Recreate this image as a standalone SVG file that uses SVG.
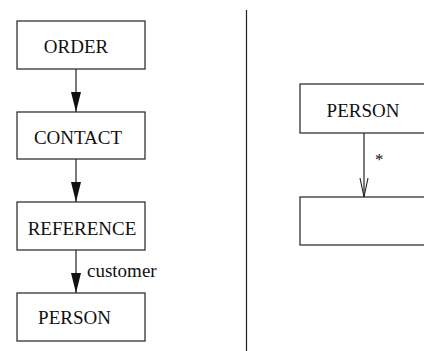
<svg xmlns="http://www.w3.org/2000/svg" width="424" height="351" viewBox="0 0 424 351">
  <style>
    .box { fill: #fff; stroke: #222; stroke-width: 1.2; }
    .lbl { font-family: "Liberation Serif", "Times New Roman", serif; font-size: 19px; fill: #111; }
    .edge { stroke: #222; stroke-width: 1.2; fill: none; }
  </style>
  <defs>
    <!-- markers drawn along +x; orient="auto" turns them to the line direction -->
    <marker id="filled" markerWidth="20" markerHeight="10" refX="20" refY="5" orient="auto" markerUnits="userSpaceOnUse" viewBox="0 0 20 10">
      <path d="M0,0 L20,5 L0,10 Z" fill="#111"/>
    </marker>
    <marker id="open" markerWidth="20" markerHeight="10" refX="19" refY="5" orient="auto" markerUnits="userSpaceOnUse" viewBox="0 0 20 10">
      <path d="M0,1 L19,5 L0,9" fill="none" stroke="#222" stroke-width="1.1"/>
    </marker>
  </defs>

  <!-- left chain -->
  <g id="order">
    <rect class="box" x="17" y="21" width="128" height="48"/>
    <text class="lbl" x="76" y="53" text-anchor="middle">ORDER</text>
  </g>
  <g id="contact">
    <rect class="box" x="17" y="112" width="128" height="47"/>
    <text class="lbl" x="78" y="144" text-anchor="middle">CONTACT</text>
  </g>
  <g id="reference">
    <rect class="box" x="17" y="202" width="128" height="48"/>
    <text class="lbl" x="82" y="235" text-anchor="middle">REFERENCE</text>
  </g>
  <g id="person-left">
    <rect class="box" x="17" y="293" width="128" height="48"/>
    <text class="lbl" x="74.5" y="324" text-anchor="middle">PERSON</text>
  </g>

  <!-- divider -->
  <line x1="246.5" y1="10" x2="246.5" y2="351" stroke="#222" stroke-width="1.2"/>

  <!-- right side -->
  <g id="person-right">
    <rect class="box" x="300" y="84" width="130" height="49"/>
    <text class="lbl" x="363" y="117" text-anchor="middle">PERSON</text>
  </g>
  <g id="empty-box">
    <rect class="box" x="300" y="197" width="130" height="48"/>
  </g>

  <g id="connectors">
    <line class="edge" x1="76" y1="69" x2="76" y2="112" marker-end="url(#filled)"/>
    <line class="edge" x1="76" y1="159" x2="76" y2="202" marker-end="url(#filled)"/>
    <line class="edge" x1="76" y1="250" x2="76" y2="293" marker-end="url(#filled)"/>
    <text class="lbl" x="87" y="277">customer</text>
    <line class="edge" x1="364" y1="133" x2="364" y2="197" marker-end="url(#open)"/>
    <text class="lbl" x="375" y="165" style="font-size:17px">*</text>
  </g>
</svg>
